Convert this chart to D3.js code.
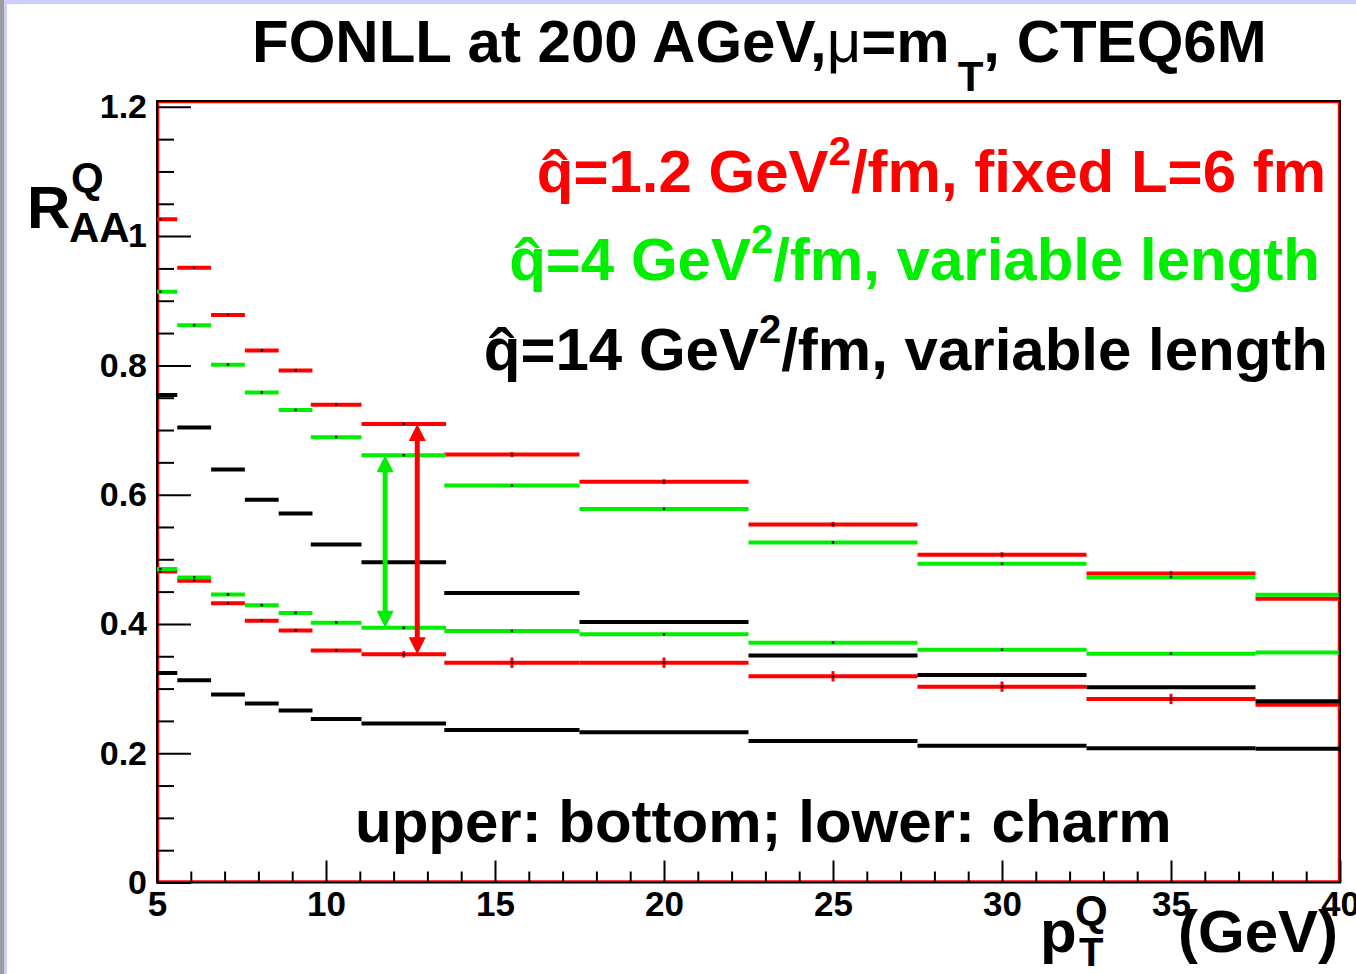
<!DOCTYPE html>
<html>
<head>
<meta charset="utf-8">
<script src="https://cdn.jsdelivr.net/npm/d3@7"></script>
<style>
  body { margin: 0; background: #fff; }
  svg { display: block; }
  text { font-family: 'Liberation Sans', Arial, Helvetica, sans-serif; font-weight: bold; }
</style>
</head>
<body>
<svg id="chart" width="1356" height="974"></svg>
<script>
// ---- data: heavy-quark R_AA vs pT (FONLL, 200 AGeV) ----
const ptCenters    = [5.1, 6.1, 7.1, 8.1, 9.1, 10.3, 12.3, 15.5, 20, 25, 30, 35, 40];
const ptHalfWidths = [0.5, 0.5, 0.5, 0.5, 0.5, 0.75, 1.25, 2, 2.5, 2.5, 2.5, 2.5, 2.5];

// bottom quark (upper curves)
const bottomQhat1p2 = [1.026, 0.951, 0.878, 0.823, 0.792, 0.739, 0.7095, 0.662, 0.620, 0.554, 0.507, 0.478, 0.439];
const bottomQhat4   = [0.914, 0.862, 0.801, 0.758, 0.731, 0.689, 0.661, 0.614, 0.578, 0.526, 0.493, 0.472, 0.445];
const bottomQhat14  = [0.754, 0.704, 0.639, 0.592, 0.571, 0.523, 0.4955, 0.448, 0.403, 0.351, 0.321, 0.302, 0.2805];
// charm quark (lower curves)
const charmQhat1p2  = [0.481, 0.467, 0.432, 0.405, 0.390, 0.359, 0.353, 0.340, 0.340, 0.319, 0.303, 0.284, 0.275];
const charmQhat4    = [0.485, 0.472, 0.4455, 0.429, 0.417, 0.402, 0.394, 0.389, 0.384, 0.371, 0.360, 0.354, 0.356];
const charmQhat14   = [0.324, 0.313, 0.291, 0.277, 0.266, 0.253, 0.246, 0.236, 0.2325, 0.219, 0.2114, 0.2078, 0.2068];

// statistical errors (only visible on the fixed-L set)
const bottomQhat1p2Err = [0, 0, 0, 0, 0, 0, 0, 0.004, 0.004, 0.004, 0.004, 0.004, 0.004];
const charmQhat1p2Err  = [0, 0, 0, 0, 0, 0, 0.005, 0.008, 0.008, 0.008, 0.008, 0.008, 0.008];
const zeroErr = ptCenters.map(() => 0);

// suppression-range arrows at pT ~ 12 GeV
const arrowPt = [11.75, 12.7];

const xTickValues = [5, 10, 15, 20, 25, 30, 35, 40];
const yTickValues = [0, 0.2, 0.4, 0.6, 0.8, 1.0, 1.2];

const legendLines = [
  { color: "#ff0000", qhat: "=1.2 GeV", tail: "/fm, fixed L=6 fm" },
  { color: "#00ee00", qhat: "=4 GeV",   tail: "/fm, variable length" },
  { color: "#000000", qhat: "=14 GeV",  tail: "/fm, variable length" }
];

// ---- layout ----
const W = 1356, H = 974;
const frame = { left: 157, right: 1340, top: 101, bottom: 882.5 };
const RED = "#ff0000", GREEN = "#00ee00", BLACK = "#000000";

const svg = d3.select("#chart");
svg.append("rect").attr("width", W).attr("height", H).attr("fill", "#fff");
// canvas border strips
svg.append("rect").attr("x", 0).attr("y", 0).attr("width", W).attr("height", 4).attr("fill", "#ccccff");
svg.append("rect").attr("x", 0).attr("y", 0).attr("width", 4).attr("height", H).attr("fill", "#9c9c9c");
svg.append("rect").attr("x", 4).attr("y", 4).attr("width", 3).attr("height", H - 4).attr("fill", "#ccccff");

const x = d3.scaleLinear().domain([5, 40]).range([frame.left, frame.right]);
const y = d3.scaleLinear().domain([0, 1.209]).range([frame.bottom, frame.top]);

svg.append("clipPath").attr("id", "plotClip")
  .append("rect")
  .attr("x", frame.left).attr("y", frame.top)
  .attr("width", frame.right - frame.left).attr("height", frame.bottom - frame.top);

// ---- frame ----
svg.append("rect")
  .attr("x", frame.left + 1.5).attr("y", frame.top + 1.5)
  .attr("width", frame.right - frame.left - 3).attr("height", frame.bottom - frame.top - 3)
  .attr("fill", "none").attr("stroke", "#ff0000").attr("stroke-width", 1.5);
svg.append("rect")
  .attr("x", frame.left).attr("y", frame.top)
  .attr("width", frame.right - frame.left).attr("height", frame.bottom - frame.top)
  .attr("fill", "none").attr("stroke", "#000").attr("stroke-width", 2);

// ---- axes ----
const xMinor = d3.range(5, 40.001, 1).filter(v => !xTickValues.includes(v));
const yMinor = d3.range(0, 1.2001, 0.05).map(v => +v.toFixed(2)).filter(v => !yTickValues.some(t => Math.abs(t - v) < 1e-6));

function styleAxis(g) {
  g.select(".domain").remove();
  g.selectAll(".tick line").attr("stroke", "#000").attr("stroke-width", 2);
  g.selectAll("text").attr("fill", "#000").style("font-weight", "bold")
    .style("font-family", "'Liberation Sans', Arial, Helvetica, sans-serif");
}

svg.append("g").attr("transform", `translate(0,${frame.bottom})`)
  .call(d3.axisBottom(x).tickValues(xMinor).tickSizeInner(-11).tickSizeOuter(0).tickFormat(""))
  .call(styleAxis);
svg.append("g").attr("transform", `translate(0,${frame.bottom})`)
  .call(d3.axisBottom(x).tickValues(xTickValues).tickSizeInner(-22).tickSizeOuter(0).tickPadding(9)
        .tickFormat(d3.format("d")))
  .call(styleAxis)
  .selectAll("text").style("font-size", "35px");

svg.append("g").attr("transform", `translate(${frame.left},0)`)
  .call(d3.axisLeft(y).tickValues(yMinor).tickSizeInner(-17).tickSizeOuter(0).tickFormat(""))
  .call(styleAxis);
svg.append("g").attr("transform", `translate(${frame.left},0)`)
  .call(d3.axisLeft(y).tickValues(yTickValues).tickSizeInner(-34).tickSizeOuter(0).tickPadding(10)
        .tickFormat(d3.format("~g")))
  .call(styleAxis)
  .selectAll("text").style("font-size", "34px");

// ---- data: horizontal bin bars with centre markers ----
const series = [
  { values: charmQhat1p2,  errs: charmQhat1p2Err,  color: RED },
  { values: bottomQhat1p2, errs: bottomQhat1p2Err, color: RED },
  { values: charmQhat4,    errs: zeroErr,          color: GREEN },
  { values: bottomQhat4,   errs: zeroErr,          color: GREEN },
  { values: charmQhat14,   errs: zeroErr,          color: BLACK },
  { values: bottomQhat14,  errs: zeroErr,          color: BLACK }
];

const plot = svg.append("g").attr("clip-path", "url(#plotClip)");
series.forEach(s => {
  const pts = ptCenters.map((c, i) => ({ c, hw: ptHalfWidths[i], v: s.values[i], e: s.errs[i] }));
  const g = plot.append("g");
  g.selectAll("line.bin").data(pts).join("line").attr("class", "bin")
    .attr("x1", d => x(d.c - d.hw)).attr("x2", d => x(d.c + d.hw))
    .attr("y1", d => y(d.v)).attr("y2", d => y(d.v))
    .attr("stroke", s.color).attr("stroke-width", 4);
  g.selectAll("line.err").data(pts.filter(d => d.e > 0)).join("line").attr("class", "err")
    .attr("x1", d => x(d.c)).attr("x2", d => x(d.c))
    .attr("y1", d => y(d.v - d.e)).attr("y2", d => y(d.v + d.e))
    .attr("stroke", s.color).attr("stroke-width", 3);
  g.selectAll("rect.mk").data(pts).join("rect").attr("class", "mk")
    .attr("x", d => x(d.c) - 1.2).attr("y", d => y(d.v) - 1.2)
    .attr("width", 2.4).attr("height", 2.4).attr("fill", "#000");
});

// ---- double-headed arrows: bottom vs charm suppression at pT ~ 12 GeV ----
const binIdx = 6;
const arrows = [
  { pt: arrowPt[0], lo: charmQhat4[binIdx],   hi: bottomQhat4[binIdx],   color: GREEN },
  { pt: arrowPt[1], lo: charmQhat1p2[binIdx], hi: bottomQhat1p2[binIdx], color: RED }
];
const headLen = 17, headHalf = 8.5;
arrows.forEach(a => {
  const ax = x(a.pt), yTop = y(a.hi), yBot = y(a.lo);
  const g = svg.append("g");
  g.append("line").attr("x1", ax).attr("x2", ax)
    .attr("y1", yTop + headLen - 1).attr("y2", yBot - headLen + 1)
    .attr("stroke", a.color).attr("stroke-width", 5);
  g.append("path")
    .attr("d", `M${ax},${yTop} L${ax - headHalf},${yTop + headLen} L${ax + headHalf},${yTop + headLen} Z`)
    .attr("fill", a.color);
  g.append("path")
    .attr("d", `M${ax},${yBot} L${ax - headHalf},${yBot - headLen} L${ax + headHalf},${yBot - headLen} Z`)
    .attr("fill", a.color);
});

// ---- title ----
const title = svg.append("text").attr("x", 252).attr("y", 62).style("font-size", "60px").attr("fill", "#000");
title.append("tspan").text("FONLL at 200 AGeV,");
title.append("tspan").text("\u03bc").style("font-weight", "normal");
title.append("tspan").text("=m");
title.append("tspan").text("T").attr("dx", 8).attr("dy", 29).style("font-size", "42px");
title.append("tspan").text(", CTEQ6M").attr("dy", -29);

// ---- axis titles ----
const yTitle = svg.append("text").attr("fill", "#000");
yTitle.append("tspan").attr("x", 27).attr("y", 228).style("font-size", "60px").text("R");
yTitle.append("tspan").attr("x", 71).attr("y", 192).style("font-size", "42px").text("Q");
yTitle.append("tspan").attr("x", 69).attr("y", 242).style("font-size", "42px").text("AA");

const xTitle = svg.append("text").attr("fill", "#000");
xTitle.append("tspan").attr("x", 1040).attr("y", 952).style("font-size", "60px").text("p");
xTitle.append("tspan").attr("x", 1075).attr("y", 925).style("font-size", "42px").text("Q");
xTitle.append("tspan").attr("x", 1079).attr("y", 966).style("font-size", "40px").text("T");
xTitle.append("tspan").attr("x", 1178).attr("y", 952).style("font-size", "60px").text("(GeV)");

// ---- legend ----
const legendRight = [1326, 1320, 1328];
const legendBase = [192, 280, 370];
legendLines.forEach((L, i) => {
  const t = svg.append("text")
    .attr("x", legendRight[i]).attr("y", legendBase[i])
    .attr("text-anchor", "end").style("font-size", "60px").attr("fill", L.color);
  t.append("tspan").text("q");
  t.append("tspan").text(L.qhat);
  t.append("tspan").text("2").attr("dy", -27).style("font-size", "40px");
  t.append("tspan").text(L.tail).attr("dy", 27);
  // circumflex over the q
  const q = t.node().getExtentOfChar(0);
  svg.append("text")
    .attr("x", q.x + q.width / 2).attr("y", legendBase[i] + 14)
    .attr("text-anchor", "middle").style("font-size", "78px").style("font-weight", "normal")
    .attr("fill", L.color).text("\u02c6");
});

// ---- annotation ----
svg.append("text").attr("x", 355).attr("y", 842).style("font-size", "60px").attr("fill", "#000")
  .text("upper: bottom; lower: charm");
</script>
</body>
</html>
